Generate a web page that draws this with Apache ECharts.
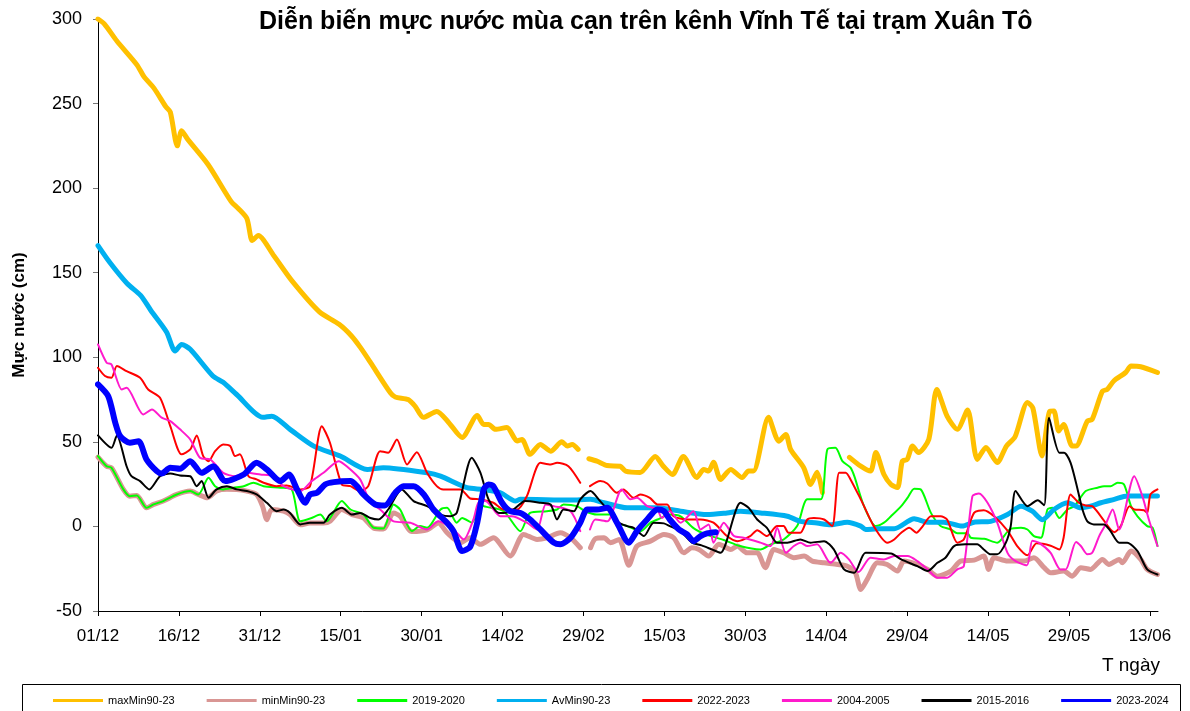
<!DOCTYPE html>
<html>
<head>
<meta charset="utf-8">
<script src="https://cdn.jsdelivr.net/npm/echarts@6/dist/echarts.min.js"></script>
<style>
  html, body { margin: 0; padding: 0; background: #fff; }
  #chart { width: 1190px; height: 711px; }
</style>
</head>
<body>
<div id="chart"></div>
<script>
// day 0 = 01/12 (season 2023-2024, leap year)
const xTickDays = [0, 15, 30, 45, 60, 75, 90, 105, 120, 135, 150, 165, 180, 195]
const xTickLabels = ['01/12', '16/12', '31/12', '15/01', '30/01', '14/02', '29/02', '15/03', '30/03', '14/04', '29/04', '14/05', '29/05', '13/06']

const seriesNames = ['maxMin90-23', 'minMin90-23', '2019-2020', 'AvMin90-23', '2022-2023', '2004-2005', '2015-2016', '2023-2024']

// [day, water level cm]; null = gap
const maxMin = [[0,300],[1.2,297],[3.5,287],[7.2,273],[8.5,266],[10.4,259],[12.6,248],[13.4,245],[14.7,225],[15.5,234],[16.6,229],[20.4,214],[24.7,192],[26,188],[27.6,182],[28.6,169],[29.7,172],[32.6,160],[36,145],[41,127],[44.7,119.5],[47,112.6],[48.6,106],[50.5,97],[54.2,79],[55.1,76.5],[57.5,75],[58.8,71],[60.3,64.5],[62.8,68],[65,61.5],[67.5,52.6],[70.3,65.6],[71.5,60.3],[72.4,60.3],[73.7,57.4],[75.8,58.5],[77.7,50.5],[78.6,51.4],[80.1,42.6],[82,48.5],[83.9,44.5],[86,50],[87,47.5],[87.9,48.5],[89,45.5],[90,null],[91,40],[92.5,38.6],[94.4,36],[96.8,35.6],[97.8,32.7],[100.5,31.9],[103.3,41.4],[104.8,35.6],[106.5,30.7],[108.5,41.4],[111,29],[112.3,33.7],[113.2,32.7],[114.1,38],[115.4,27.8],[117.3,33.7],[119.4,28.9],[120.6,32.7],[121.5,32.7],[124.3,64.5],[126.2,50.4],[127.5,54.4],[128.4,45.5],[130.8,34.9],[132.1,24.8],[133.3,32.1],[134.3,20],[136,null],[139.3,40.8],[141.4,35.6],[143.2,32.7],[144.2,43.7],[145.7,30.7],[147,24.8],[148.2,23],[149.1,38.6],[150,39.6],[151,47.5],[152.1,43.7],[154,51.4],[155.5,81],[157.4,65.2],[159.3,57.4],[161.2,68.8],[163,39.6],[164.6,46.7],[166.7,37.8],[168.4,47.5],[170,53],[172.3,73.3],[173.3,70],[175,41.6],[176.4,68],[177.2,68.2],[178.1,56.4],[179,60.3],[180.6,47.5],[181.3,47.5],[183.4,62.3],[184.3,63.3],[186.2,80],[187.1,81],[188.3,86],[190.5,91],[191.5,94.8],[193.3,94.4],[196.4,91]]

const minMin = [[0,41],[1.6,35.6],[2.5,34.7],[4.7,21.9],[5.9,17.9],[7.2,18.3],[9,11],[10.3,13],[12.1,15],[14.6,18.9],[17.1,20.9],[18.6,18.9],[20.3,17],[22,21],[23.9,22],[25.7,21.9],[27.6,20.9],[29.4,18.9],[30.5,12],[31.3,4],[32.2,10],[34.4,9],[35.6,7],[37.5,1],[39.3,2],[41.8,2],[43,3],[45.2,10],[47.1,7],[49.2,5],[51.1,-1],[52.9,-1.5],[54.8,8],[56,6],[58.2,-3],[61,-2],[63.1,2],[64.7,-3.7],[67.2,-9.6],[69,-6.7],[70.9,-10.6],[73.3,-6.7],[76.4,-17.5],[78.9,-4.7],[81.4,-7.7],[83.2,-6.7],[85.7,-3.7],[87.6,-6.7],[89.4,-12.6],[90.2,null],[91.3,-12.6],[92.2,-7.3],[93.8,-6.7],[95,-9.6],[96.6,-7.7],[98.4,-23],[99.9,-11.6],[102.4,-8.7],[104.9,-4.7],[106.7,-6.7],[108.6,-15.6],[110.1,-12.6],[111.4,-13.6],[113.2,-17.5],[115.1,-10.6],[117.3,-13.6],[118.5,-11.6],[120.3,-15.6],[122.2,-15.6],[123.7,-24.4],[125.3,-13.6],[127.1,-15.6],[129,-18.5],[130.9,-17.5],[132.4,-20.5],[134.6,-21.5],[137.1,-22.5],[138.9,-23.5],[140.4,-27.4],[141.4,-37.3],[142.6,-31.3],[144.5,-21.5],[146.3,-22.5],[148.2,-26.4],[149.4,-20.5],[151.9,-22.5],[153.8,-25.4],[155.6,-29.4],[158.1,-26.4],[159.9,-20.5],[162.4,-19.9],[164.2,-17.5],[165.1,-25.4],[166.1,-18.5],[168.6,-20.5],[171.7,-20.5],[173.5,-18.5],[175.4,-24.4],[176.6,-27.4],[179,-26.4],[180.6,-29.4],[182.2,-24.4],[184,-25.4],[186.2,-19.5],[187.4,-22.5],[189.3,-19.5],[189.9,-21.5],[191.5,-14.6],[193.3,-19.5],[194.5,-25.4],[196.4,-28.4]]

const y2019 = [[0,41.6],[1.6,35.6],[2.5,34.7],[4.7,21.9],[5.9,17.9],[7.2,18.3],[9,11],[10.3,13],[12.1,15],[14.6,18.9],[17.1,20.9],[18.6,18.9],[20.5,28.8],[21.7,23.8],[23.2,21.9],[25.1,22.9],[27,23.8],[28.8,25.8],[30.7,23.8],[33.8,22.9],[35.9,21.9],[37.5,3],[39.6,5],[41.2,7],[42.4,3],[45.2,15],[46.8,10],[49.2,7],[51.1,-0.8],[52.9,-1.2],[54.8,13],[56,10],[58.2,-2.8],[59.7,0.2],[61,-0.8],[63.5,10],[64.7,11],[66.5,2.2],[67.5,5],[69.3,2.2],[70.9,14],[71.5,12],[75.2,9],[78.3,-2.8],[80.1,8],[83.2,9],[85.1,10],[86.3,13],[88.8,12],[90.3,9],[92.5,7],[95,7],[96.2,2.2],[98.1,0.2],[100.6,-2.8],[102.4,2.2],[103.7,4.1],[106,7],[108,6],[110.4,-1],[112.9,-5],[116,-8],[119,-11.6],[122.8,-13.6],[124.7,-10.6],[127.1,-7.7],[129.6,0.2],[131.5,16],[134,16],[135.2,45.5],[136.7,46.5],[138,38.6],[139.5,34.7],[140.2,29.7],[142,12],[144.2,0.2],[145.7,2.2],[147,6],[148.9,12],[150.1,17],[151.3,22.3],[152.5,21.9],[154.4,8],[156.2,0.2],[158.1,-1.8],[159.3,-4.1],[161.2,-4.1],[161.8,-6.7],[164.3,-7.3],[166.7,-9.6],[169,-1.8],[171.1,-0.8],[172.3,-1.8],[173.5,-5.7],[174.8,-6.7],[176,10],[176.9,11],[178.2,5],[179.7,10],[181,12],[183.1,20.9],[185.3,22.9],[186.5,23.8],[187.7,23.8],[189,25.8],[190.2,24.8],[191.5,12],[192.7,6],[194.5,0.2],[195.5,-0.8],[196.4,-11.6]]

const avMin = [[0,166],[2.2,156],[5.4,143.6],[7.9,136.6],[9.8,127.7],[12.7,115],[14.3,103.7],[15.5,107.6],[17.1,104.7],[21.3,88.9],[23.2,85.2],[25.7,78],[30.6,64.5],[32.2,65.2],[35.6,57.4],[40,47.5],[44.9,41.6],[49.9,33.7],[52.9,34.7],[61,31.7],[63.5,29.7],[68.4,22.9],[71.4,21.9],[74.6,19.9],[77.4,15],[78.3,16],[87.6,15.6],[91.3,16],[93.8,14],[98.1,11],[103.7,11],[106.1,10],[108,9],[112.9,7],[116.6,8],[119.1,9],[122.8,8],[127.8,6],[130.2,3],[133.3,2],[135.8,1],[138.9,2.5],[141.4,0.2],[142.3,-1.8],[144.5,-1.4],[147.6,-1.4],[151.3,4.5],[153.7,2.5],[156.8,2.5],[160.2,0.2],[162.4,2.5],[165.5,3],[168.6,7],[171.1,12],[173.2,9],[175.1,4],[177.2,10],[179.7,14],[182.2,11],[184,12],[185.9,14],[188.4,16],[190.8,18],[193.3,18],[196.4,18]]

const y2022 = [[0,93.8],[1.3,88.9],[2.5,87.9],[3.5,94.8],[5.3,91.8],[7.8,87.9],[9.3,81],[11.5,76.1],[13.4,59.3],[15.5,42.6],[17.1,45.5],[18.3,53.8],[19.5,41.6],[20.5,38.6],[21.7,44.5],[23.2,48.5],[24.5,47.5],[25.4,41.6],[26.3,42.6],[27.9,29.7],[29.4,27.8],[30.7,25.8],[33.1,23.8],[35,24.2],[37.5,21.9],[39.3,23.8],[41.5,59.3],[43,49.5],[45.2,24.8],[46.8,23.8],[48.6,20.9],[50.1,23.8],[52.3,44.5],[53.8,43.6],[55.4,51.4],[57.3,36.6],[59.1,43.9],[61,31.7],[62.8,23.8],[64,21.9],[67.2,21.9],[69,16.5],[70.9,16],[73.3,14],[75.2,10],[77.7,10],[79.5,17.9],[82,37.6],[83.9,36.6],[85.1,37.6],[87.2,35.6],[89.4,25.8],[90.3,null],[91.2,23.8],[93.1,26.8],[94.4,25.4],[96.2,19.9],[97.4,21.9],[99.3,16.9],[100.5,18.9],[102.3,16.9],[103.7,13],[105.5,13],[106.7,6],[109.2,4.1],[111.7,4.1],[114.1,2.2],[116.6,-5.7],[118.5,-8.7],[120.9,-5.7],[122.2,-2.2],[124,-5.7],[125.9,0.2],[127.1,0.2],[128,-3.7],[130.2,-3.7],[131.5,4.1],[132.7,5],[134.6,4.1],[136.1,0.2],[137.4,31.7],[138.6,31.7],[139.5,27.8],[141.4,16],[142,12],[143.8,0.2],[146.3,-9.6],[147.6,-7.7],[148.9,-3.7],[150.4,-0.8],[151.7,-3.7],[152.9,0.2],[154.4,6],[156.2,6],[157.4,4.1],[159.3,-9.6],[160.5,-7.7],[162.4,8],[164.2,9.6],[166.1,6],[168.6,-2.5],[170.4,-11.6],[172.3,-17],[174,-10],[176.6,-11.4],[178.2,-13.6],[179,-6.7],[180.3,18.9],[181.8,14],[183.1,12.4],[184.3,12],[185.9,6],[188.4,-3.4],[189.6,0.2],[191.2,12],[192.1,10],[193.9,9.6],[194.5,8],[195.1,18.9],[196.4,21.9]]

const y2004 = [[0,107.6],[1.6,96.8],[2.5,95.8],[4.4,81],[5.3,82],[8.4,66.2],[10,69.2],[11.8,64.3],[13.4,62.3],[15.2,57.4],[17.1,51.4],[18.9,40.6],[20.8,39.6],[23.2,31.7],[25.4,29.7],[27.6,31.7],[30.1,30.7],[32.5,29.7],[34.4,23.8],[37.5,20.9],[39.6,26.8],[41.8,31.7],[44.6,38.6],[46.1,35.6],[48.6,27.8],[50.5,14],[52.3,10],[54.8,3],[57.9,2.2],[61,-1.8],[63.1,3],[65.9,-1.8],[67.8,-7.7],[69.6,4.1],[70.5,14],[71.8,15],[74.6,6],[76.7,6],[79.5,2.2],[81.4,-1.8],[83,13],[84.5,12],[87.6,9],[89.4,-2.8],[90.3,null],[91.2,-1.8],[92.2,4.1],[94.4,3],[97.1,21.9],[98.7,16],[99.9,16.9],[101.8,12],[103.7,10],[104.5,5],[106,9],[108,2.2],[110.4,9],[111.7,-1.8],[113.2,1.2],[114.1,-9.6],[116,2.2],[117.9,-5.7],[119.7,-6.7],[122.8,-9.6],[124.7,-11.6],[125.9,-0.8],[127.5,-15.6],[129,-11.6],[130.2,-9.6],[131.5,-11.6],[133.3,-10.6],[135.8,-21.5],[137.7,-15.6],[139.2,-19.5],[141,-27],[143.2,-18.5],[145.7,-19.5],[147.6,-17.5],[150.1,-17.5],[151.9,-20.5],[153.8,-25.4],[155.6,-30.3],[157.4,-30.3],[159.3,-25.4],[160.5,-23.5],[162.1,17.9],[163.3,19.5],[164.9,14],[166.7,2.2],[168.6,-15.6],[170.1,-20.5],[172.2,-23],[173.2,-8.5],[174.4,-9.6],[176.6,-15.6],[178.4,-25.4],[179.4,-25.4],[181.3,-9.2],[182.2,-11.6],[183.4,-16.5],[184.3,-15.6],[185.6,-5.7],[186.8,1.2],[188.1,10],[189.3,-1.8],[192.1,29.7],[193.6,17.9],[194.8,4.1],[196.4,-11.6]]

const y2015 = [[0,53.8],[2.5,46.5],[3.5,53.8],[5.3,35.6],[6.2,29.7],[7.8,26.8],[9.5,21.9],[11.5,29.7],[13.4,31.3],[15.2,30.1],[17.1,29.7],[18.3,23.8],[19.2,26.8],[20.5,17],[22,21.9],[23.9,23.8],[25.7,21.9],[27.6,20.9],[29.4,18.9],[31.3,14],[33.1,9],[34.4,10],[35.6,8],[37.5,1.2],[39.3,2.2],[41.8,2.2],[43,7],[45.2,11],[47.1,7],[48.6,8],[50.5,5],[52,4.1],[53.8,10],[56.3,21.9],[58.5,15],[61,12],[63.5,7],[65.3,6],[66.5,8],[69.3,40.6],[70.9,31.7],[72.4,16],[74.3,8],[75.2,8],[77,10],[79.2,15],[82,14],[83.9,13],[85.1,4.1],[86.3,10],[88.2,9],[89.4,16],[91.3,20.9],[92.8,16],[95,8],[96.6,2.2],[98.1,0.2],[99.3,-0.8],[101.2,-5.7],[103,2.2],[104.9,1.8],[106,0.2],[108,-2.8],[110.1,-9.6],[111.9,-11.2],[113.8,-13.6],[115.4,-15.6],[119.1,14],[120.6,11],[122.2,4.1],[124,-0.8],[125.9,-9.6],[127.8,-9.6],[130.2,-7.7],[132.1,-9.6],[134.6,-8.7],[136.4,-13.6],[138.3,-25.4],[140.2,-27.4],[142.3,-15.6],[147,-16],[148.9,-19.5],[151.9,-23.5],[153.8,-26.4],[155.6,-21.5],[157.1,-18.5],[158.7,-11.6],[160.8,-10.6],[163,-10.6],[164.2,-13.6],[165.5,-16.5],[166.7,-16.5],[168.3,-9.6],[169.2,0.2],[170.1,20.9],[172.3,12],[174.2,15.5],[175.4,12.5],[176.3,64.3],[178.2,43.6],[179.1,43.6],[180.3,37.6],[181.6,21.9],[182.5,10],[183.4,3],[184.6,1.2],[186.5,1.2],[187.7,-2.8],[189.3,-9.6],[190.8,-9.6],[192.7,-14.6],[194.5,-25.4],[196.4,-28.4]]

const y2023 = [[0,84],[1.9,77],[3.2,61.3],[4.1,53.4],[5.9,49.5],[7.5,50.4],[9,39.6],[10.9,32.7],[11.8,31.3],[13.4,34.7],[15.2,34.1],[17.1,38.6],[19.2,31.7],[21.4,35.6],[23.6,26.8],[27,30.7],[29.4,37.6],[31.3,33.7],[33.8,26.8],[35.4,30.7],[36.9,21.9],[38.4,14],[39.3,18.9],[40.6,19.9],[42.1,24.8],[43.7,26.2],[46.8,26.8],[48,23.8],[49.2,18.9],[51.4,13],[53.2,12.4],[55.1,19.9],[56.6,23.8],[58.5,23.8],[60.4,18.9],[62.2,10],[64.7,2.2],[65.9,-2.8],[67.5,-14.6],[69,-12],[70.3,2.2],[71.5,21.9],[72.4,24.8],[73.3,23.8],[74.9,14],[76.4,9],[78.3,8],[80.1,4.1],[82,-1.8],[84.5,-9.6],[85.7,-10.6],[87.6,-6.7],[89.4,2.2],[90.7,10],[92.5,10],[94.4,11],[96.2,2.2],[98.4,-9.6],[99.9,-2.8],[101.8,4.1],[103.7,10],[104.9,9],[106,4.1],[107.7,-1.8],[109.2,-4.7],[110.4,-8.7],[111.7,-5.7],[112.9,-4.1],[114.5,-3.4]]

const seriesData = [maxMin, minMin, y2019, avMin, y2022, y2004, y2015, y2023]
const seriesColors = ['#FFC000', '#D99694', '#00FF00', '#00B0F0', '#FF0000', '#FF1ACC', '#000000', '#0000FF']
const seriesWidths = [5, 5, 2, 5, 2, 2, 2, 6]

const font = 'Liberation Sans, Arial, sans-serif'
const chart = echarts.init(document.getElementById('chart'))

chart.setOption({
  animation: false,
  backgroundColor: '#fff',
  title: {
    text: 'Diễn biến mực nước mùa cạn trên kênh Vĩnh Tế tại trạm Xuân Tô',
    left: 254,
    top: 5,
    textStyle: { fontFamily: font, fontSize: 25, fontWeight: 'bold', color: '#000' }
  },
  legend: {
    data: seriesNames,
    left: 48,
    top: 690,
    icon: 'rect',
    itemWidth: 50,
    itemHeight: 3,
    itemGap: 32,
    textStyle: { fontFamily: font, fontSize: 11, color: '#000' }
  },
  grid: { left: 98, right: 32, top: 19, bottom: 100 },
  xAxis: {
    type: 'value',
    min: 0,
    max: 196.5,
    axisLine: { onZero: false, lineStyle: { color: '#000', width: 1 } },
    axisTick: { customValues: xTickDays, length: 5, lineStyle: { color: '#000' } },
    axisLabel: {
      customValues: xTickDays,
      formatter: v => xTickLabels[xTickDays.indexOf(Math.round(v))],
      fontFamily: font, fontSize: 17, color: '#000', margin: 17
    },
    splitLine: { show: false }
  },
  yAxis: {
    type: 'value',
    min: -50,
    max: 300,
    interval: 50,
    name: 'Mực nước (cm)',
    nameLocation: 'middle',
    nameGap: 70,
    nameTextStyle: { fontFamily: font, fontSize: 17, fontWeight: 'bold', color: '#000' },
    axisLine: { show: true, lineStyle: { color: '#000', width: 1 } },
    axisTick: { show: true, length: 5, lineStyle: { color: '#777' } },
    axisLabel: { fontFamily: font, fontSize: 18, color: '#000', margin: 16 },
    splitLine: { show: false }
  },
  graphic: [
    {
      type: 'text', right: 30, top: 656,
      style: { text: 'T ngày', font: '19px ' + font, fill: '#000' }
    },
    {
      type: 'rect', left: 20, top: 682,
      shape: { width: 1158, height: 40 },
      style: { fill: 'none', stroke: '#000', lineWidth: 1 }
    }
  ],
  series: seriesNames.map((name, i) => ({
    name,
    type: 'line',
    data: seriesData[i],
    showSymbol: false,
    symbol: 'none',
    smooth: 0.25,
    connectNulls: false,
    color: seriesColors[i],
    lineStyle: { color: seriesColors[i], width: seriesWidths[i], cap: 'round', join: 'round' },
    z: 2 + i
  }))
})
</script>
</body>
</html>
